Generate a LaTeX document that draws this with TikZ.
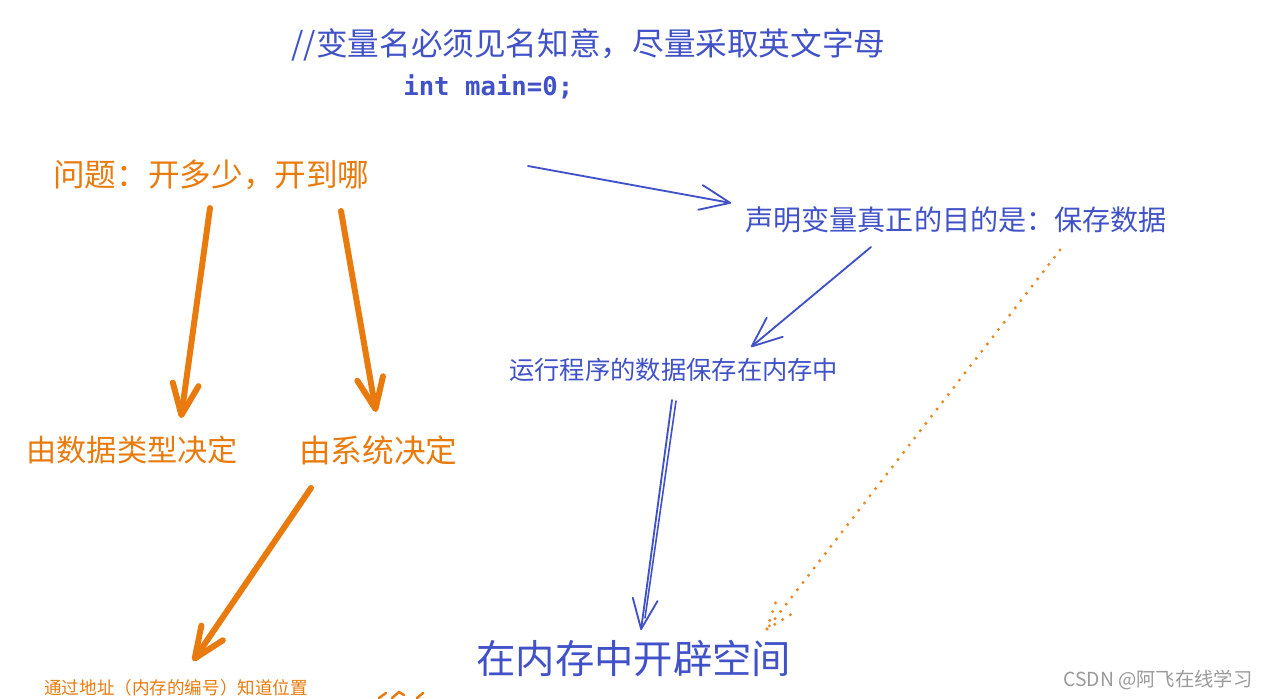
\documentclass[tikz,border=0pt]{standalone}
\usepackage{fontspec}
\setmainfont{Noto Sans CJK SC}
\newfontfamily\monof{DejaVu Sans Mono}
\usetikzlibrary{arrows.meta}
\definecolor{penblue}{HTML}{4152C8}
\definecolor{penorange}{HTML}{E97B0E}
\definecolor{wmgray}{HTML}{9A9A9A}
\newcommand{\fsz}[1]{\fontsize{#1pt}{#1pt}\selectfont}
\tikzset{
  bluetxt/.style={text=penblue, inner sep=0pt, anchor=west},
  orangetxt/.style={text=penorange, inner sep=0pt, anchor=west},
  bluearrow/.style={draw=penblue, line width=1.05pt, line cap=round, line join=round,
    -{Straight Barb[length=0.6cm,width=0.5cm,round]}},
  blueline/.style={draw=penblue, line width=0.9pt, line cap=round},
  thickarrow/.style={draw=penorange, line width=3.4pt, line cap=round, line join=round,
    -{Straight Barb[length=0.62cm,width=0.52cm,round]}},
  dotline/.style={draw=penorange!90, line width=1.9pt, line cap=round, dash pattern=on 0pt off 5.2pt},
}
\begin{document}
\begin{tikzpicture}[x=0.02cm,y=-0.02cm]
\useasboundingbox[fill=white] (0,0) rectangle (1267,698);

% texts
\node[bluetxt, font=\fsz{18}] (rule) at (291,45) {//变量名必须见名知意，尽量采取英文字母};
\node[bluetxt, font=\monof\bfseries\fsz{14.6}] (code) at (403,87) {int main=0;};
\node[orangetxt, font=\fsz{18}] (q) at (53,175) {问题：开多少，开到哪};
\node[bluetxt, font=\fsz{16}] (purpose) at (745,220) {声明变量真正的目的是：保存数据};
\node[bluetxt, font=\fsz{14.4}] (run) at (509,370) {运行程序的数据保存在内存中};
\node[orangetxt, font=\fsz{17.2}] (type) at (26,450) {由数据类型决定};
\node[orangetxt, font=\fsz{18}] (sys) at (299,450) {由系统决定};
\node[orangetxt, font=\fsz{10}] (addr) at (44,688) {通过地址（内存的编号）知道位置};
\node[bluetxt, font=\fsz{22.4}] (space) at (476,658) {在内存中开辟空间};
\node[text=wmgray, inner sep=0pt, anchor=west, font=\fsz{11}] (wm) at (1063,680) {CSDN @阿飞在线学习};

% connector ends
\coordinate (a1s) at (528,166);
\coordinate (a1e) at (731,203);
\coordinate (a2s) at (871,247);
\coordinate (a2e) at (751,347);
\coordinate (a3s) at (672,400);
\coordinate (a3t) at (676,401);
\coordinate (a3e) at (641,630);
\coordinate (a3m) at (645,618);
\coordinate (a4s) at (1060,250);
\coordinate (a4e) at (767,629);
\coordinate (a5s) at (210,208);
\coordinate (a5e) at (181,418);
\coordinate (a6s) at (341,211);
\coordinate (a6e) at (376,412);
\coordinate (a7s) at (311,488);
\coordinate (a7e) at (193,661);

% blue arrows
\draw[bluearrow] (a1s) -- (a1e);
\draw[bluearrow] (a2s) -- (a2e);
\draw[blueline] (a3t) -- (a3m);
\draw[bluearrow] (a3s) -- (a3e);

% orange dotted arrow
\draw[dotline] (a4s) -- (a4e);
\draw[dotline] (a4e) -- ++(10,-31);
\draw[dotline] (a4e) -- ++(28,-17);

% orange thick arrows
\draw[thickarrow] (a5s) -- (a5e);
\draw[thickarrow] (a6s) -- (a6e);
\draw[thickarrow] (a7s) -- (a7e);

% clipped fragment at the bottom edge
\draw[penorange, line width=1.4pt, line cap=round] (379,698) -- (386,693);
\draw[penorange, line width=1.4pt, line cap=round] (392,698) -- (399,692) -- (404,695);
\draw[penorange, line width=1.4pt, line cap=round] (417,698) -- (423,693);
\end{tikzpicture}
\end{document}
